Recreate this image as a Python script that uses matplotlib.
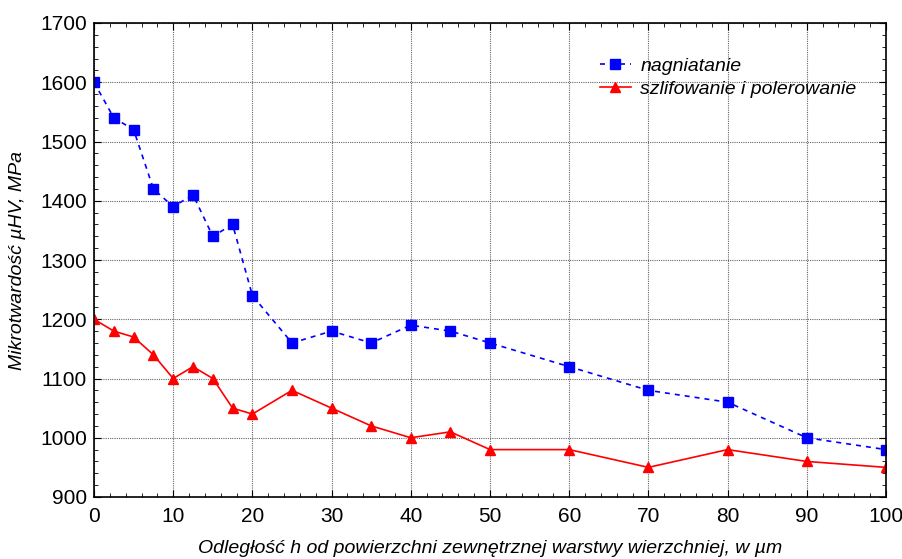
import matplotlib
matplotlib.use("Agg")
import matplotlib.pyplot as plt
from matplotlib.ticker import MultipleLocator

plt.rcParams['font.family'] = ['Liberation Sans', 'DejaVu Sans']

h = [0, 2.5, 5, 7.5, 10, 12.5, 15, 17.5, 20, 25, 30, 35, 40, 45, 50, 60, 70, 80, 90, 100]
nagniatanie = [1600, 1540, 1520, 1420, 1390, 1410, 1340, 1360, 1240, 1160, 1180, 1160,
               1190, 1180, 1160, 1120, 1080, 1060, 1000, 980]
szlifowanie = [1200, 1180, 1170, 1140, 1100, 1120, 1100, 1050, 1040, 1080, 1050, 1020,
               1000, 1010, 980, 980, 950, 980, 960, 950]

fig = plt.figure(figsize=(9.03, 5.59), dpi=100)
ax = fig.add_axes([94 / 903, 62 / 559, 792 / 903, 474 / 559])

ax.plot(h, nagniatanie, color='#0000ff', linestyle=(0, (3, 3)), linewidth=1.2,
        marker='s', markersize=7, label='nagniatanie')
ax.plot(h, szlifowanie, color='#ff0000', linestyle='-', linewidth=1.2,
        marker='^', markersize=7, label='szlifowanie i polerowanie')

ax.set_xlim(0, 100)
ax.set_ylim(900, 1700)
ax.xaxis.set_major_locator(MultipleLocator(10))
ax.xaxis.set_minor_locator(MultipleLocator(2))
ax.yaxis.set_major_locator(MultipleLocator(100))
ax.yaxis.set_minor_locator(MultipleLocator(20))
ax.tick_params(which='both', direction='in', top=True, right=True, labelsize=15)
ax.tick_params(which='major', length=5)
ax.tick_params(which='minor', length=3)
ax.tick_params(axis='x', pad=7)
ax.tick_params(axis='y', pad=5)
ax.grid(True, which='major', color='#666666', linestyle=(0, (1, 1)), linewidth=0.8)
for s in ax.spines.values():
    s.set_linewidth(1.2)

ax.set_xlabel('Odległość h od powierzchni zewnętrznej warstwy wierzchniej, w µm',
              fontsize=14, style='italic', labelpad=10)
ax.set_ylabel('Mikrotwardość µHV, MPa', fontsize=14, style='italic', labelpad=10)

leg = ax.legend(loc='upper right', bbox_to_anchor=(0.985, 0.965), frameon=False,
                handlelength=1.6, handletextpad=0.5, labelspacing=0.3,
                prop={'style': 'italic', 'size': 14})

fig.savefig('out.png', dpi=100)
